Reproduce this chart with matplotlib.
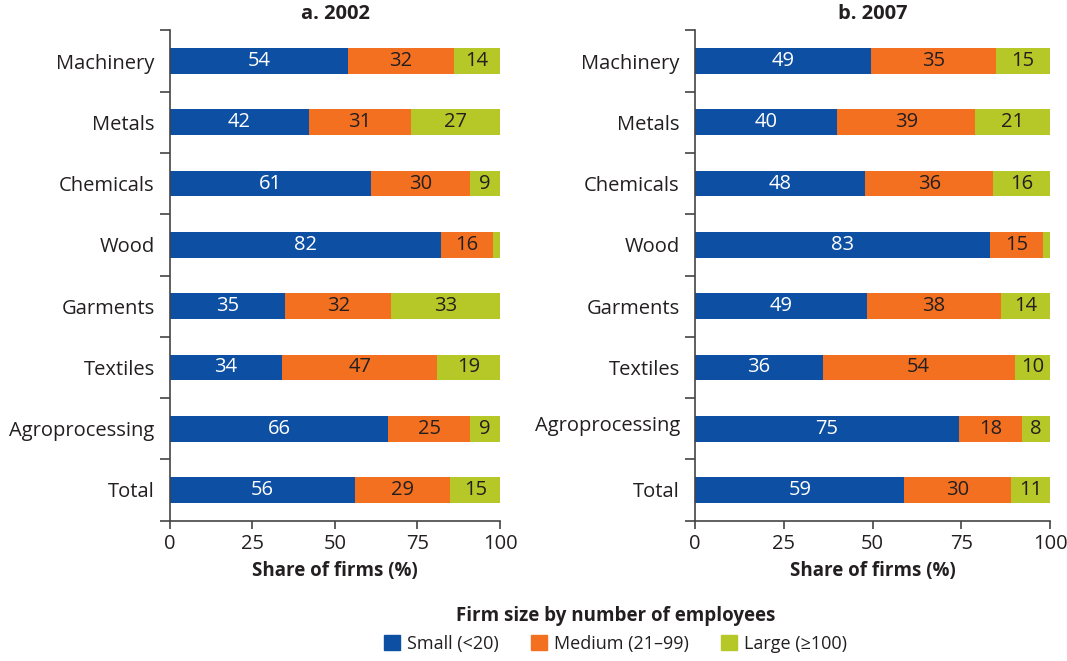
import matplotlib.pyplot as plt
from matplotlib.patches import Patch
from matplotlib.transforms import ScaledTranslation
import numpy as np

plt.rcParams['font.family'] = ['Open Sans', 'DejaVu Sans']

sectors = ["Machinery", "Metals", "Chemicals", "Wood", "Garments", "Textiles", "Agroprocessing", "Total"]

small_2002 = [54, 42, 61, 82, 35, 34, 66, 56]
medium_2002 = [32, 31, 30, 16, 32, 47, 25, 29]
large_2002 = [14, 27, 9, 2, 33, 19, 9, 15]

small_2007 = [49, 40, 48, 83, 49, 36, 75, 59]
medium_2007 = [35, 39, 36, 15, 38, 54, 18, 30]
large_2007 = [15, 21, 16, 2, 14, 10, 8, 11]

blue = "#0d4fa3"
orange = "#f37021"
green = "#b5c827"
txt = "#231f20"
fs = 14.5

fig = plt.figure(figsize=(10.67, 6.61), dpi=100)
ax1 = fig.add_axes([0.1593, 0.2125, 0.3093, 0.7414])
ax2 = fig.add_axes([0.6514, 0.2125, 0.3327, 0.7414])


def draw(ax, small, medium, large, title):
    y = np.arange(len(sectors))
    s = np.array(small, dtype=float)
    m = np.array(medium, dtype=float)
    l = np.array(large, dtype=float)
    # rounded shares don't always add to 100, bars are scaled to full width
    tot = (s + m + l) / 100.0
    sw, mw, lw = s / tot, m / tot, l / tot
    ax.barh(y, sw, height=0.42, color=blue)
    ax.barh(y, mw, left=sw, height=0.42, color=orange)
    ax.barh(y, lw, left=sw + mw, height=0.42, color=green)
    for i in range(len(sectors)):
        ax.text(sw[i] / 2, y[i], str(small[i]), ha="center", va="center", color="white", fontsize=fs)
        ax.text(sw[i] + mw[i] / 2, y[i], str(medium[i]), ha="center", va="center", color=txt, fontsize=fs)
        if large[i] >= 5:
            ax.text(sw[i] + mw[i] + lw[i] / 2, y[i], str(large[i]), ha="center", va="center", color=txt, fontsize=fs)
    ax.set_xlim(0, 100)
    ax.set_ylim(len(sectors) - 0.5, -0.5)
    ax.set_xticks([0, 25, 50, 75, 100])
    ax.set_yticks(y)
    ax.set_yticklabels(sectors, fontsize=fs, color=txt)
    ax.set_yticks(np.arange(len(sectors) + 1) - 0.5, minor=True)
    ax.tick_params(axis="y", which="major", length=0, pad=11)
    ax.tick_params(axis="y", which="minor", length=7, width=1.2, color="#444444")
    ax.tick_params(axis="x", length=6, width=1.2, color="#444444", labelsize=fs, labelcolor=txt)
    for sp in ["top", "right"]:
        ax.spines[sp].set_visible(False)
    for sp in ["left", "bottom"]:
        ax.spines[sp].set_color("#444444")
        ax.spines[sp].set_linewidth(1.2)
    ax.set_xlabel("Share of firms (%)", fontsize=13.5, fontweight="bold", color=txt, labelpad=5)
    ax.set_title(title, fontsize=14.5, fontweight="bold", color=txt, pad=8)


draw(ax1, small_2002, medium_2002, large_2002, "a. 2002")
draw(ax2, small_2007, medium_2007, large_2007, "b. 2007")

# in panel b the Agroprocessing label sits a bit higher than its bar
lbl = ax2.get_yticklabels()[6]
lbl.set_transform(lbl.get_transform() + ScaledTranslation(0, 5 / 100, fig.dpi_scale_trans))

handles = [Patch(color=blue, label="Small (<20)"),
           Patch(color=orange, label="Medium (21\u201399)"),
           Patch(color=green, label="Large (\u2265100)")]
leg = fig.legend(handles=handles, loc="lower center", bbox_to_anchor=(0.577, -0.012), ncol=3,
                 frameon=False, fontsize=13, title="Firm size by number of employees",
                 handlelength=0.85, handleheight=0.85, handletextpad=0.4, columnspacing=1.8)
leg.get_title().set_fontweight("bold")
leg.get_title().set_fontsize(13.5)
leg.get_title().set_color(txt)
for t in leg.get_texts():
    t.set_color(txt)

fig.savefig("out.png", dpi=100)
